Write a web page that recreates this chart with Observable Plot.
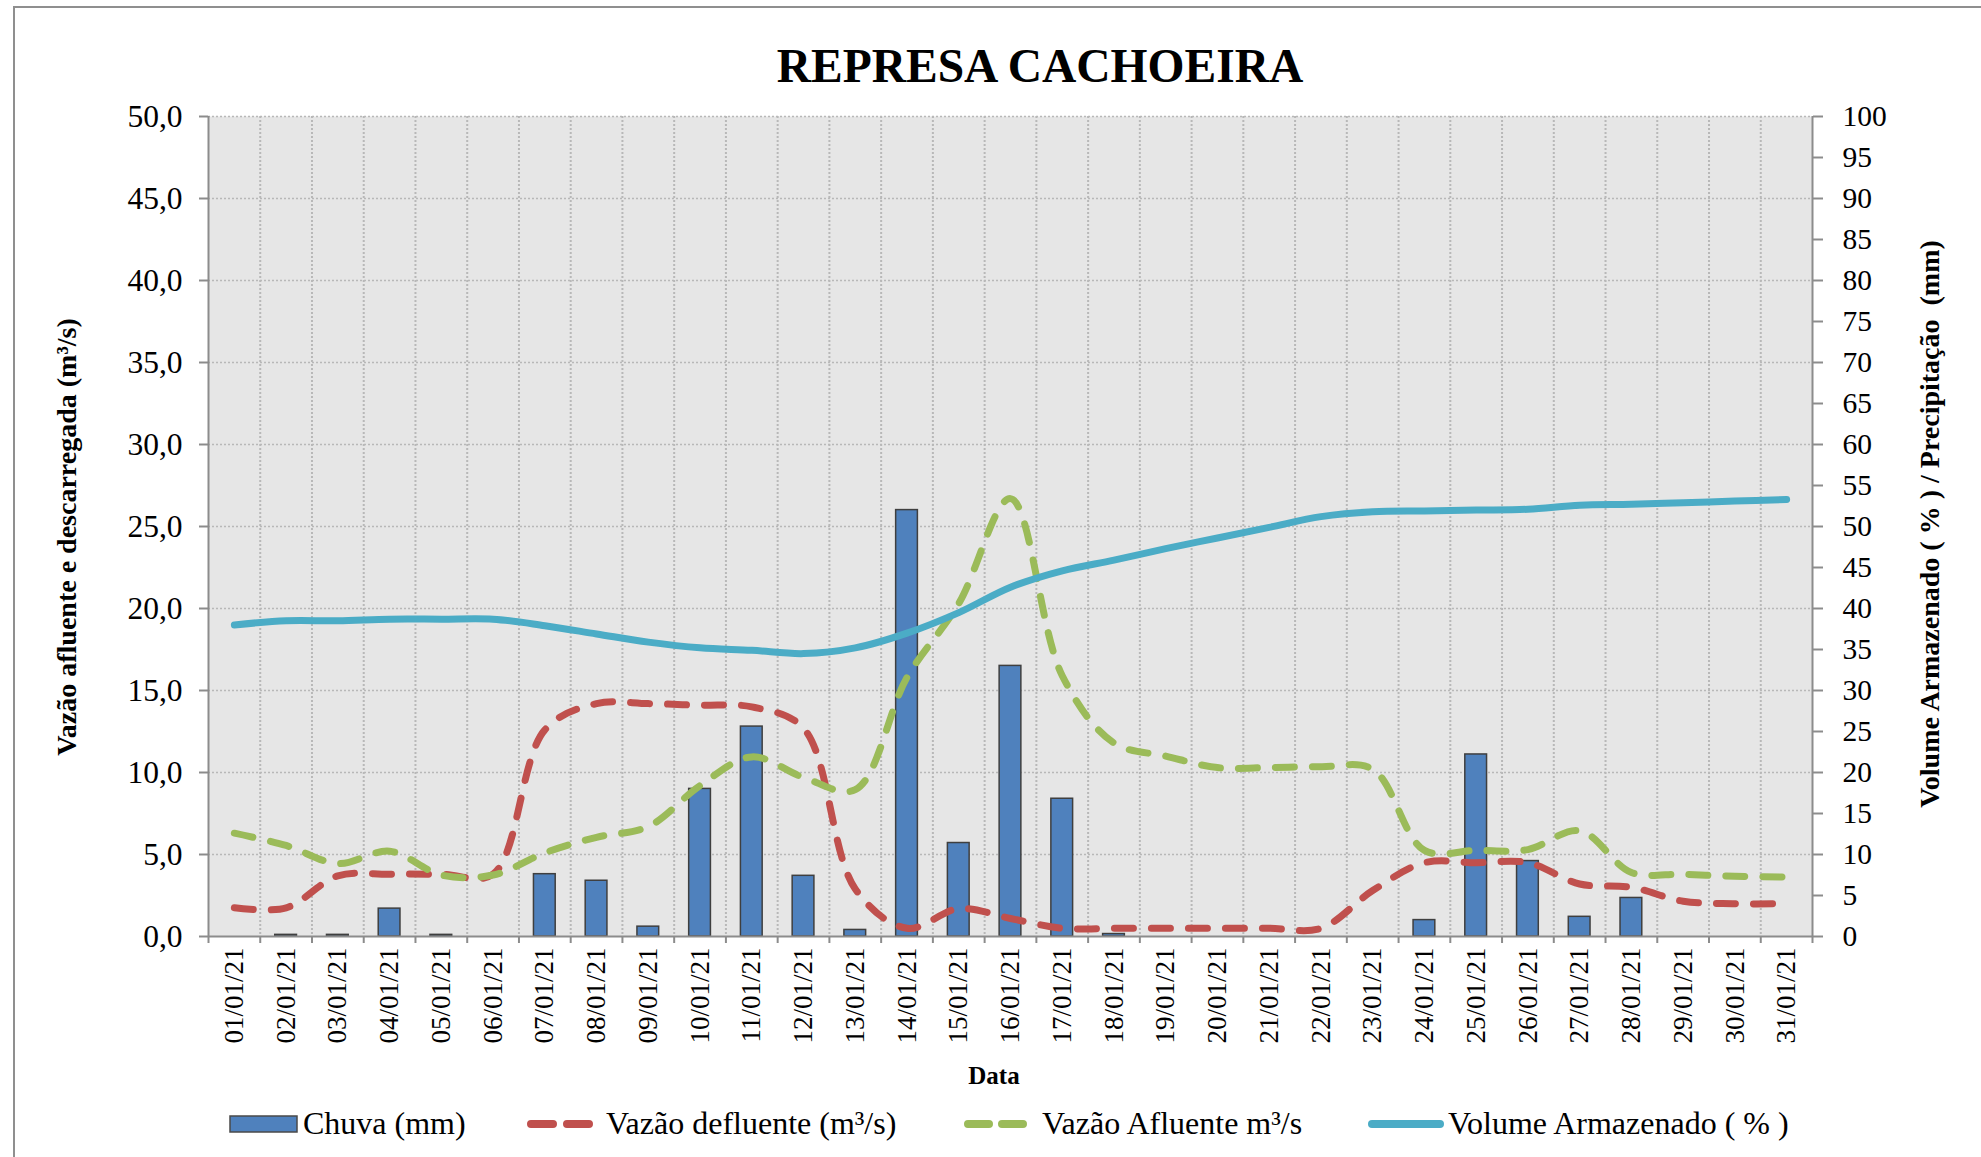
<!DOCTYPE html>
<html>
<head>
<meta charset="utf-8">
<script src="https://cdn.jsdelivr.net/npm/d3@7"></script>
<script src="https://cdn.jsdelivr.net/npm/@observablehq/plot@0.6"></script>
<style>
  html, body { margin: 0; padding: 0; background: #ffffff; }
  #wrap { position: relative; width: 1981px; height: 1157px; overflow: hidden; font-family: 'Liberation Serif', 'Times New Roman', serif; }
  #frame { position: absolute; left: 13px; top: 6px; width: 2000px; height: 1200px; border-left: 2px solid #8f8f8f; border-top: 2px solid #8f8f8f; }
  #chart { position: absolute; left: 0; top: 0; }
  #overlay { position: absolute; left: 0; top: 0; }
  #overlay text { font-family: 'Liberation Serif', 'Times New Roman', serif; fill: #000; }
</style>
</head>
<body>
<div id="wrap">
  <div id="frame"></div>
  <div id="chart"></div>
  <svg id="overlay" width="1981" height="1157" xmlns="http://www.w3.org/2000/svg">
    <text x="1040" y="82" text-anchor="middle" font-size="47.5" font-weight="bold">REPRESA CACHOEIRA</text>
    <text transform="translate(66,537) rotate(-90)" text-anchor="middle" dominant-baseline="central" font-size="28" font-weight="bold">Vazão afluente e descarregada (m³/s)</text>
    <text transform="translate(1929,524) rotate(-90)" text-anchor="middle" dominant-baseline="central" font-size="28" font-weight="bold" style="white-space:pre">Volume Armazenado ( % ) / Precipitação  (mm)</text>
    <text x="994" y="1084" text-anchor="middle" font-size="25" font-weight="bold">Data</text>
    <g id="legend">
      <rect x="230" y="1116" width="67" height="16" fill="#4F81BD" stroke="#4a4a4a" stroke-width="1.5"></rect>
      <text x="303" y="1134" font-size="32">Chuva (mm)</text>
      <line x1="531" y1="1124" x2="589" y2="1124" stroke="#C0504D" stroke-width="8" stroke-linecap="round" stroke-dasharray="22,14"></line>
      <text x="606" y="1134" font-size="32">Vazão defluente (m³/s)</text>
      <line x1="968" y1="1124" x2="1023" y2="1124" stroke="#9BBB59" stroke-width="8" stroke-linecap="round" stroke-dasharray="21,13"></line>
      <text x="1042" y="1134" font-size="32">Vazão Afluente m³/s</text>
      <line x1="1372" y1="1124" x2="1440" y2="1124" stroke="#4BACC6" stroke-width="8" stroke-linecap="round"></line>
      <text x="1448" y="1134" font-size="32">Volume Armazenado ( % )</text>
    </g>
  </svg>
</div>
<script>
// ---- Data ----
const dates = ["01/01/21","02/01/21","03/01/21","04/01/21","05/01/21","06/01/21","07/01/21","08/01/21","09/01/21","10/01/21",
               "11/01/21","12/01/21","13/01/21","14/01/21","15/01/21","16/01/21","17/01/21","18/01/21","19/01/21","20/01/21",
               "21/01/21","22/01/21","23/01/21","24/01/21","25/01/21","26/01/21","27/01/21","28/01/21","29/01/21","30/01/21","31/01/21"];
// Chuva (mm) - right axis
const chuva = [0, 0.2, 0.2, 3.4, 0.2, 0, 7.6, 6.8, 1.2, 18.0, 25.6, 7.4, 0.8, 52.0, 11.4, 33.0, 16.8, 0.3, 0, 0, 0, 0, 0, 2.0, 22.2, 9.2, 2.4, 4.7, 0, 0, 0];
// Vazão defluente (m³/s) - left axis
const defluente = [1.75, 1.75, 3.7, 3.8, 3.8, 3.8, 12.6, 14.2, 14.2, 14.1, 14.0, 12.7, 2.9, 0.5, 1.7, 1.1, 0.5, 0.5, 0.5, 0.5, 0.5, 0.5, 2.8, 4.5, 4.5, 4.5, 3.2, 3.0, 2.15, 2.0, 2.0];
// Vazão Afluente m³/s - left axis
const afluente = [6.3, 5.55, 4.45, 5.2, 3.75, 3.75, 5.1, 6.05, 6.7, 9.2, 10.95, 9.7, 8.95, 15.8, 20.3, 26.7, 15.9, 11.8, 11.0, 10.3, 10.3, 10.35, 10.2, 5.25, 5.25, 5.3, 6.45, 3.9, 3.8, 3.67, 3.63];
// Volume Armazenado (%) - right axis
const volume = [38.0, 38.5, 38.5, 38.7, 38.7, 38.7, 37.9, 36.9, 35.9, 35.2, 34.9, 34.5, 35.2, 37.0, 39.5, 42.6, 44.6, 45.9, 47.3, 48.6, 49.9, 51.2, 51.8, 51.9, 52.0, 52.1, 52.6, 52.7, 52.9, 53.1, 53.3];
// Tick values
const leftTicks = [0, 5, 10, 15, 20, 25, 30, 35, 40, 45, 50];
const rightTicks = [0, 5, 10, 15, 20, 25, 30, 35, 40, 45, 50, 55, 60, 65, 70, 75, 80, 85, 90, 95, 100];

// ---- Build table ----
const rows = dates.map((d, i) => ({i, date: d, chuva: chuva[i], def: defluente[i], afl: afluente[i], vol: volume[i]}));
const rightMax = 100, leftMax = 50;
const k = leftMax / rightMax; // right-axis value -> left-axis units
const boundaries = d3.range(dates.length + 1);
const centers = dates.map((d, i) => i + 0.5);
const grey = "#8c8c8c";
const gridStyle = {stroke: "#b8b8b8", strokeWidth: 1.5, strokeDasharray: "2,2"};

const chart = Plot.plot({
  width: 1981,
  height: 1100,
  marginLeft: 208,
  marginRight: 169,
  marginTop: 116,
  marginBottom: 164,
  x: {type: "linear", domain: [0, dates.length]},
  y: {type: "linear", domain: [0, leftMax]},
  style: {fontFamily: "'Liberation Serif', 'Times New Roman', serif", background: "transparent", color: "black", overflow: "visible"},
  marks: [
    Plot.frame({fill: "#e6e6e6", stroke: "none"}),
    Plot.ruleY(leftTicks.slice(1), gridStyle),
    Plot.ruleX(boundaries.slice(1, -1), {...gridStyle, strokeWidth: 2}),
    Plot.rectY(rows, {x1: "i", x2: d => d.i + 1, y: d => d.chuva * k, insetLeft: 15, insetRight: 15,
                      fill: "#4F81BD", stroke: "#3f3f3f", strokeWidth: 1.5}),
    Plot.line(rows, {x: d => d.i + 0.5, y: "def", curve: "catmull-rom", stroke: "#C0504D", strokeWidth: 7,
                     strokeDasharray: "19,18", strokeLinecap: "round"}),
    Plot.line(rows, {x: d => d.i + 0.5, y: "afl", curve: "catmull-rom", stroke: "#9BBB59", strokeWidth: 7,
                     strokeDasharray: "19,18", strokeLinecap: "round"}),
    Plot.line(rows, {x: d => d.i + 0.5, y: d => d.vol * k, curve: "catmull-rom", stroke: "#4BACC6", strokeWidth: 7,
                     strokeLinecap: "round"}),
    // axis lines
    Plot.ruleY([0], {stroke: grey, strokeWidth: 2}),
    Plot.ruleX([0, dates.length], {stroke: grey, strokeWidth: 2}),
    // left axis
    Plot.axisY(leftTicks, {anchor: "left", tickSize: 9, tickPadding: 17, stroke: grey, strokeWidth: 2, fill: "black",
                           fontSize: 31.5, label: null, tickFormat: d => d.toFixed(1).replace(".", ",")}),
    // right axis (right-axis values mapped into left units)
    Plot.axisY(rightTicks.map(v => v * k), {anchor: "right", tickSize: 10, tickPadding: 20, stroke: grey, strokeWidth: 2, fill: "black",
                           fontSize: 29.5, label: null, tickFormat: d => String(Math.round(d / k))}),
    // x tick marks at category boundaries
    Plot.axisX(boundaries, {anchor: "bottom", tickSize: 7, stroke: grey, strokeWidth: 2, label: null, tickFormat: () => null}),
    // x labels at category centres
    Plot.axisX(centers, {anchor: "bottom", tickSize: 0, tickPadding: 11, tickRotate: -90, fill: "black", fontSize: 27,
                         label: null, tickFormat: v => dates[Math.round(v - 0.5)]})
  ]
});
document.getElementById("chart").appendChild(chart);
</script>
</body>
</html>
